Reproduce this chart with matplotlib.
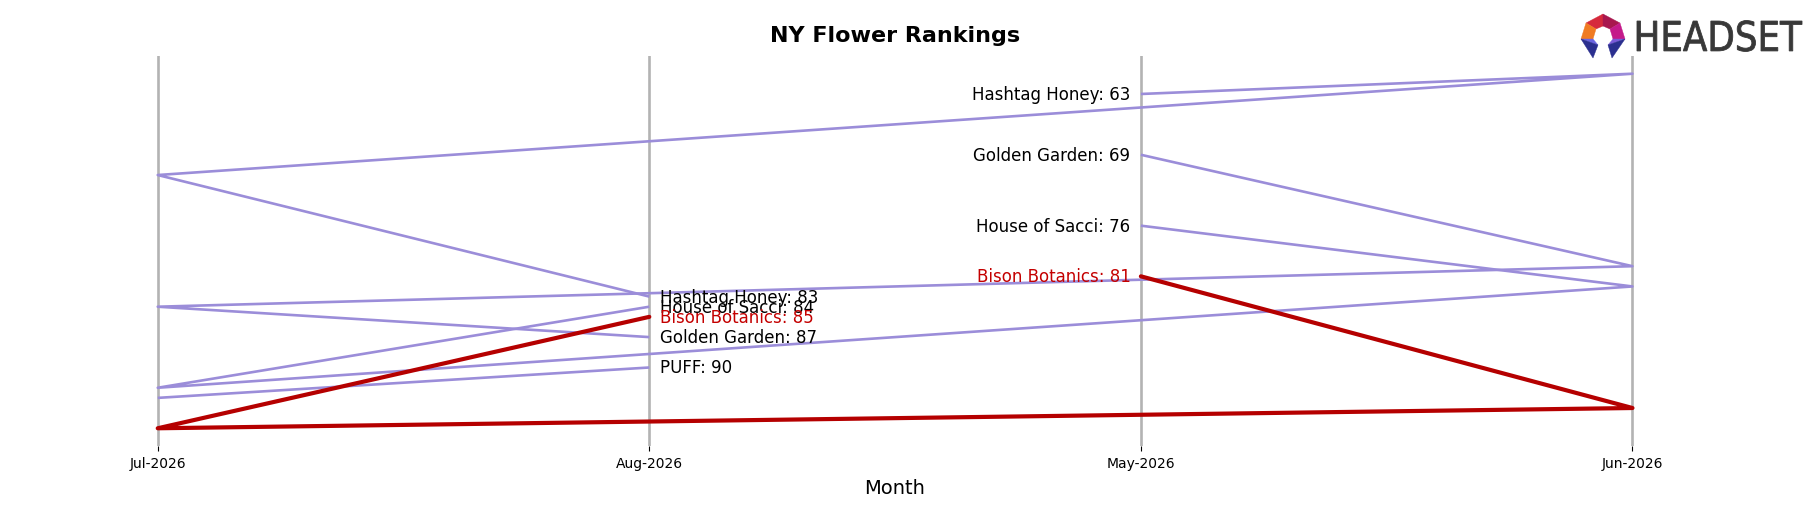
import matplotlib
matplotlib.use("Agg")
import matplotlib.pyplot as plt
import numpy as np
from matplotlib.textpath import TextPath
from matplotlib.font_manager import FontProperties
from matplotlib.patches import PathPatch, Polygon
from matplotlib.transforms import Affine2D

# ---- data ----
axis_months = ["Jul-2026", "Aug-2026", "May-2026", "Jun-2026"]   # order on the x axis
chrono_months = ["May-2026", "Jun-2026", "Jul-2026", "Aug-2026"]  # order the lines follow
brands = ["Hashtag Honey", "Golden Garden", "House of Sacci", "Bison Botanics", "PUFF"]
hashtag_honey = [63, 61, 71, 83]
golden_garden = [69, 80, 84, 87]
house_of_sacci = [76, 82, 92, 84]
bison_botanics = [81, 94, 96, 85]
puff = [None, None, 93, 90]
highlight = "Bison Botanics"

series = {
    "Hashtag Honey": hashtag_honey,
    "Golden Garden": golden_garden,
    "House of Sacci": house_of_sacci,
    "Bison Botanics": bison_botanics,
    "PUFF": puff,
}

PURPLE = "#9b8dd9"
RED = "#b50000"
LABEL_RED = "#c40000"

W, H = 1818, 506
fig = plt.figure(figsize=(W / 100, H / 100), dpi=100)
ax = fig.add_axes([84 / W, 1 - 447 / H, (1706.2 - 84) / W, (447 - 57) / H])

pos = {m: i for i, m in enumerate(axis_months)}

for i in range(len(axis_months)):
    ax.axvline(i, color="#b3b3b3", lw=1.9, zorder=1)

for b in brands:
    vals = series[b]
    xs = [pos[m] for m, v in zip(chrono_months, vals) if v is not None]
    ys = [v for v in vals if v is not None]
    is_h = b == highlight
    ax.plot(xs, ys, color=RED if is_h else PURPLE, lw=3.0 if is_h else 1.9,
            zorder=4 if is_h else 3, solid_capstyle="round" if is_h else "butt")
    tc = LABEL_RED if is_h else "black"
    first_v = vals[0]
    last_v = vals[-1]
    if first_v is not None:
        ax.annotate(f"{b}: {first_v}", (pos[chrono_months[0]], first_v), xytext=(-7.5, 0),
                    textcoords="offset points", ha="right", va="center", fontsize=12, color=tc, zorder=5)
    if last_v is not None:
        ax.annotate(f"{b}: {last_v}", (pos[chrono_months[-1]], last_v), xytext=(7.5, 0),
                    textcoords="offset points", ha="left", va="center", fontsize=12, color=tc, zorder=5)

ax.set_xlim(-0.15, 3.15)
ax.set_ylim(97.75, 59.25)
ax.set_xticks(range(len(axis_months)))
ax.set_xticklabels(axis_months, fontsize=10)
ax.set_yticks([])
for s in ax.spines.values():
    s.set_visible(False)

fig.text(895 / W, 1 - 42.3 / H, "NY Flower Rankings", ha="center", va="baseline",
         fontsize=16, fontweight="bold")
fig.text(895 / W, 1 - 494 / H, "Month", ha="center", va="baseline", fontsize=14)

# ---- HEADSET logo ----
def fp(pts):
    return [(x / W, 1 - y / H) for x, y in pts]

facets = [
    ([(1586, 24), (1603, 15), (1603, 27), (1596, 30)], "#d62a3c"),
    ([(1603, 15), (1620, 24), (1610, 30), (1603, 27)], "#a8174e"),
    ([(1586, 24), (1596, 30), (1593, 40), (1581, 40)], "#f07b22"),
    ([(1620, 24), (1625, 40), (1613, 40), (1610, 30)], "#c41a8a"),
    ([(1581, 40), (1593, 40), (1598, 46)], "#6a64e0"),
    ([(1581, 40), (1598, 46), (1593, 59)], "#2b2f8f"),
    ([(1625, 40), (1613, 40), (1608, 46)], "#7a5ad8"),
    ([(1625, 40), (1608, 46), (1612, 59)], "#2b2f8f"),
]
for pts, c in facets:
    fig.patches.append(Polygon(fp(pts), closed=True, facecolor=c, edgecolor=c, lw=0.3,
                               transform=fig.transFigure, figure=fig))

tp = TextPath((0, 0), "HEADSET", size=100, prop=FontProperties(family="DejaVu Sans"))
bb = tp.get_extents()
x0, x1, ytop, ybot = 1637, 1802, 21.5, 52.5
sx = (x1 - x0) / bb.width
sy = (ybot - ytop) / bb.height
tr = (Affine2D().translate(-bb.x0, -bb.y0).scale(sx / W, sy / H)
      .translate(x0 / W, 1 - ybot / H))
path = tr.transform_path(tp)
fig.patches.append(PathPatch(path, facecolor="#383838", edgecolor="#383838", lw=0.6,
                             transform=fig.transFigure, figure=fig))

fig.savefig("out.png", dpi=100)
